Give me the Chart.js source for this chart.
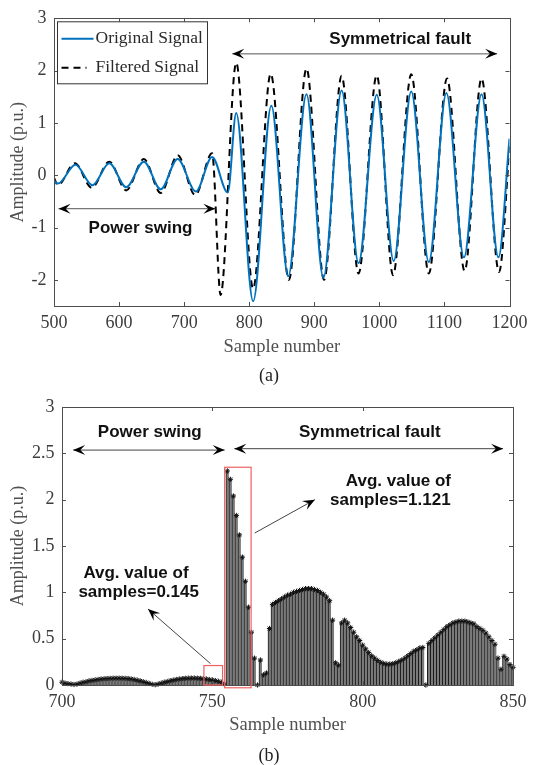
<!DOCTYPE html>
<html lang="en">
<head>
<meta charset="UTF-8">
<title>Power swing / symmetrical fault</title>
<script src="https://cdn.jsdelivr.net/npm/chart.js"></script>
<style>
  body { margin: 0; background: #fff; width: 534px; height: 765px; position: relative; overflow: hidden; }
  .panel { position: absolute; left: 0; width: 534px; }
  #panelA { top: 0; height: 380px; }
  #panelB { top: 380px; height: 385px; }
  .caption { position: absolute; width: 60px; margin-left: -30px; text-align: center;
             font: 18px "Liberation Serif", serif; color: #222; line-height: 20px; }
</style>
</head>
<body>
<div class="panel" id="panelA"><canvas id="chartA"></canvas></div>
<div class="panel" id="panelB"><canvas id="chartB"></canvas></div>
<div class="caption" style="left:269px; top:365px;">(a)</div>
<div class="caption" style="left:269px; top:745px;">(b)</div>

<script>
const origSample = [500, 506, 533, 559, 585, 611, 638, 664, 690, 718, 743, 767, 780, 806, 834, 860,
                    888, 914, 942, 968, 996, 1022, 1049, 1076, 1103, 1130, 1157, 1183, 1200];
const origAmp = [-0.10, -0.16, 0.20, -0.19, 0.23, -0.23, 0.26, -0.27, 0.31, -0.31, 0.35, -0.33, 1.19, -2.41, 1.33, -1.93,
                 1.55, -1.96, 1.62, -1.68, 1.54, -1.64, 1.60, -1.66, 1.57, -1.57, 1.55, -1.57, 0.70];
const filtSample = [500, 506, 532, 558, 585, 611, 638, 664, 690, 717, 743, 756, 780, 806, 833, 861,
                    888, 915, 942, 968, 996, 1021, 1049, 1076, 1104, 1131, 1157, 1184, 1200];
const filtAmp = [-0.05, -0.19, 0.23, -0.24, 0.26, -0.29, 0.31, -0.34, 0.38, -0.38, 0.42, -2.29, 2.15, -2.17, 1.94, -2.00,
                 2.04, -2.00, 1.90, -1.88, 1.91, -1.91, 1.93, -1.88, 1.85, -1.83, 1.85, -1.85, 0.55];
const aTicksX = [500, 600, 700, 800, 900, 1000, 1100, 1200];
const aTicksY = [-2, -1, 0, 1, 2, 3];

// (b) stem values, samples 700..850
const stemFirst = 700;
const stemAmp = [
  0.03, 0.02, 0.015, 0.01, 0.005, 0.01, 0.02, 0.03, 0.035, 0.045,      // 700
  0.05, 0.055, 0.06, 0.065, 0.068, 0.07, 0.072, 0.073, 0.074, 0.074,  // 710
  0.073, 0.072, 0.07, 0.066, 0.06, 0.053, 0.045, 0.036, 0.027, 0.017, // 720
  0.008, 0.003, 0.01, 0.02, 0.03, 0.038, 0.046, 0.053, 0.06, 0.065,   // 730
  0.069, 0.072, 0.074, 0.075, 0.075, 0.074, 0.072, 0.069, 0.065, 0.06,// 740
  0.055, 0.048, 0.04, 0.03, 0.01, 2.31, 2.22, 2.04, 1.83, 1.62,       // 750
  1.38, 1.12, 0.84, 0.57, 0.29, 0.0, 0.27, 0.11, 0.13, 0.61,          // 760
  0.87, 0.89, 0.91, 0.93, 0.95, 0.97, 0.98, 1.00, 1.01, 1.02,         // 770
  1.03, 1.04, 1.04, 1.04, 1.03, 1.02, 1.00, 0.98, 0.95, 0.91,         // 780
  0.70, 0.24, 0.215, 0.67, 0.70, 0.67, 0.62, 0.57, 0.52, 0.48,        // 790
  0.43, 0.39, 0.35, 0.315, 0.29, 0.265, 0.245, 0.233, 0.226, 0.226,   // 800
  0.23, 0.24, 0.255, 0.27, 0.29, 0.315, 0.34, 0.365, 0.38, 0.40,      // 810
  0.405, 0.0, 0.45, 0.48, 0.51, 0.54, 0.57, 0.60, 0.63, 0.65,         // 820
  0.67, 0.68, 0.69, 0.69, 0.69, 0.68, 0.67, 0.66, 0.63, 0.61,         // 830
  0.59, 0.56, 0.52, 0.48, 0.44, 0.29, 0.17, 0.31, 0.28, 0.22,         // 840
  0.19                                                                 // 850
];
const bTicksX = [700, 750, 800, 850];
const bTicksY = [0, 0.5, 1, 1.5, 2, 2.5, 3];

const serif = '"Liberation Serif", "Times New Roman", serif';
const boldSans = 'bold 17px "Liberation Sans", Arial, sans-serif';
const tickGrey = '#3c3c3c';
const titleGrey = '#505050';

function pts(xs, ys) {
    return xs.map((x, i) => ({ x: x, y: ys[i] }));
}

// matlab-ish box with inward tick marks
const boxPlugin = {
    id: 'box',
    afterDatasetsDraw(chart) {
        const { ctx, chartArea: a, scales: { x, y } } = chart;
        ctx.save();
        ctx.strokeStyle = '#4d4d4d';
        ctx.lineWidth = 1;
        ctx.beginPath();
        x.ticks.forEach(t => {
            const px = Math.round(x.getPixelForValue(t.value)) + 0.5;
            ctx.moveTo(px, a.bottom); ctx.lineTo(px, a.bottom - 4);
            ctx.moveTo(px, a.top); ctx.lineTo(px, a.top + 4);
        });
        y.ticks.forEach(t => {
            const py = Math.round(y.getPixelForValue(t.value)) + 0.5;
            ctx.moveTo(a.left, py); ctx.lineTo(a.left + 4, py);
            ctx.moveTo(a.right, py); ctx.lineTo(a.right - 4, py);
        });
        ctx.stroke();
        ctx.strokeRect(Math.round(a.left) + 0.5, Math.round(a.top) + 0.5,
                       Math.round(a.right - a.left), Math.round(a.bottom - a.top));
        ctx.restore();
    }
};

function head(ctx, xt, yt, xf, yf) {
    const ang = Math.atan2(yt - yf, xt - xf), L = 12, W = 5;
    const c = Math.cos(ang), s = Math.sin(ang);
    ctx.beginPath();
    ctx.moveTo(xt, yt);
    ctx.lineTo(xt - L * c + W * s, yt - L * s - W * c);
    ctx.lineTo(xt - 0.6 * L * c, yt - 0.6 * L * s);
    ctx.lineTo(xt - L * c - W * s, yt - L * s + W * c);
    ctx.closePath();
    ctx.fill();
}

function arrow(ctx, x1, y1, x2, y2, both) {
    ctx.beginPath();
    ctx.moveTo(x1, y1);
    ctx.lineTo(x2, y2);
    ctx.stroke();
    head(ctx, x2, y2, x1, y1);
    if (both) head(ctx, x1, y1, x2, y2);
}

function label(ctx, text, x, y) {
    ctx.font = boldSans;
    ctx.fillStyle = '#111';
    ctx.textAlign = 'center';
    ctx.textBaseline = 'middle';
    ctx.fillText(text, x, y);
}

const annoA = {
    id: 'annoA',
    afterDraw(chart) {
        const { ctx, chartArea: a, scales: { x, y } } = chart;
        const X = v => x.getPixelForValue(v), Y = v => y.getPixelForValue(v);
        ctx.save();
        ctx.strokeStyle = '#555';
        ctx.fillStyle = '#000';
        ctx.lineWidth = 1;
        arrow(ctx, X(507), Y(-0.64), X(748), Y(-0.64), true);
        arrow(ctx, X(774), Y(2.32), X(1181), Y(2.32), true);
        label(ctx, 'Power swing', X(633), Y(-1.02));
        label(ctx, 'Symmetrical fault', X(1032), Y(2.6));

        // legend
        const ds = chart.data.datasets;
        const lx = a.left + 3.5, ly = a.top + 3.5;
        ctx.strokeStyle = '#333';
        ctx.lineWidth = 1;
        ctx.fillStyle = '#fff';
        ctx.fillRect(lx, ly, 150, 62);
        ctx.strokeRect(lx, ly, 150, 62);
        ctx.font = '17.5px ' + serif;
        ctx.textAlign = 'left';
        ctx.textBaseline = 'middle';
        [[ly + 17, 0], [ly + 46, 1]].forEach(([yy, i]) => {
            ctx.beginPath();
            ctx.strokeStyle = ds[i].borderColor;
            ctx.lineWidth = 2;
            ctx.setLineDash(ds[i].borderDash || []);
            ctx.moveTo(lx + 4, yy);
            ctx.lineTo(lx + (i ? 29 : 36), yy);
            ctx.stroke();
            ctx.setLineDash([]);
            ctx.fillStyle = '#2a2a2a';
            ctx.fillText(ds[i].label, lx + 38, yy);
        });
        ctx.restore();
    }
};

const annoB = {
    id: 'annoB',
    afterDraw(chart) {
        const { ctx, scales: { x, y } } = chart;
        const X = v => x.getPixelForValue(v), Y = v => y.getPixelForValue(v);
        ctx.save();
        ctx.strokeStyle = '#f06262';
        ctx.lineWidth = 1.2;
        ctx.strokeRect(X(754.1), Y(2.35), X(762.9) - X(754.1), Y(-0.03) - Y(2.35));
        ctx.strokeRect(X(747.2), Y(0.21), X(753.4) - X(747.2), Y(0) - Y(0.21));

        ctx.strokeStyle = '#444';
        ctx.fillStyle = '#000';
        ctx.lineWidth = 1;
        arrow(ctx, X(703.7), Y(2.535), X(754.1), Y(2.535), true);
        arrow(ctx, X(757.3), Y(2.55), X(846.7), Y(2.55), true);
        arrow(ctx, X(764.1), Y(1.64), X(784.1), Y(2.0), false);
        arrow(ctx, X(749.4), Y(0.23), X(728.6), Y(0.82), false);

        label(ctx, 'Power swing', X(729.2), Y(2.73));
        label(ctx, 'Symmetrical fault', X(802.4), Y(2.73));
        label(ctx, 'Avg. value of', X(811.9), Y(2.2));
        label(ctx, 'samples=1.121', X(809.2), Y(1.99));
        label(ctx, 'Avg. value of', X(724.6), Y(1.2));
        label(ctx, 'samples=0.145', X(725.5), Y(1.0));
        ctx.restore();
    }
};

function plain(v) {
    return String(v);
}

function xAxis(min, max, ticks, h, padTitle) {
    return {
        type: 'linear', min: min, max: max, offset: false,
        afterBuildTicks: s => { s.ticks = ticks.map(v => ({ value: v })); },
        afterFit: s => { s.height = h; },
        grid: { display: false, drawTicks: false },
        border: { display: false },
        ticks: { padding: 6.5, maxRotation: 0, autoSkip: false, color: tickGrey,
                 font: { family: serif, size: 18 }, callback: plain },
        title: { display: true, text: 'Sample number', color: titleGrey,
                 font: { family: serif, size: 18.5 }, padding: { top: 0, bottom: padTitle } }
    };
}

function yAxis(min, max, ticks, w) {
    return {
        min: min, max: max,
        afterBuildTicks: s => { s.ticks = ticks.map(v => ({ value: v })); },
        afterFit: s => { s.width = w; },
        grid: { display: false, drawTicks: false },
        border: { display: false },
        ticks: { padding: 7.5, color: tickGrey, font: { family: serif, size: 18 }, callback: plain },
        title: { display: true, text: 'Amplitude (p.u.)', color: titleGrey,
                 font: { family: serif, size: 18 }, padding: { top: 7, bottom: 0 } }
    };
}

new Chart(document.getElementById('chartA'), {
    type: 'line',
    data: {
        datasets: [
            {
                label: 'Original Signal',
                data: pts(origSample, origAmp),
                borderColor: '#0072BD',
                borderWidth: 2,
                pointRadius: 0,
                cubicInterpolationMode: 'monotone'
            },
            {
                label: 'Filtered Signal',
                data: pts(filtSample, filtAmp),
                borderColor: '#000000',
                borderWidth: 2,
                borderDash: [7, 5],
                pointRadius: 0,
                cubicInterpolationMode: 'monotone'
            }
        ]
    },
    options: {
        responsive: true,
        maintainAspectRatio: false,
        animation: false,
        layout: { padding: { left: 0, right: 21, top: 15, bottom: 0 } },
        plugins: { legend: { display: false }, tooltip: { enabled: false } },
        scales: {
            x: xAxis(500, 1200, aTicksX, 74, 22),
            y: yAxis(-2.5, 3, aTicksY, 54)
        }
    },
    plugins: [boxPlugin, annoA]
});

const stemPoints = stemAmp.map((v, i) => ({ x: stemFirst + i, y: v }));

new Chart(document.getElementById('chartB'), {
    type: 'bar',
    data: {
        datasets: [
            {
                type: 'line',
                label: 'markers',
                data: stemPoints,
                showLine: false,
                pointStyle: 'star',
                pointRadius: 2.6,
                pointBorderColor: '#111',
                pointBorderWidth: 1,
                pointBackgroundColor: 'rgba(0,0,0,0)',
                clip: false
            },
            {
                type: 'bar',
                label: 'stems',
                data: stemPoints,
                backgroundColor: '#7a7a7a',
                borderColor: '#1a1a1a',
                borderWidth: { left: 1, right: 0, top: 0, bottom: 0 },
                borderSkipped: false,
                barPercentage: 1,
                categoryPercentage: 1
            }
        ]
    },
    options: {
        responsive: true,
        maintainAspectRatio: false,
        animation: false,
        layout: { padding: { left: 0, right: 21, top: 27, bottom: 0 } },
        plugins: { legend: { display: false }, tooltip: { enabled: false } },
        scales: {
            x: xAxis(700, 850, bTicksX, 80, 29),
            y: yAxis(0, 3, bTicksY, 62)
        }
    },
    plugins: [boxPlugin, annoB]
});
</script>
</body>
</html>
